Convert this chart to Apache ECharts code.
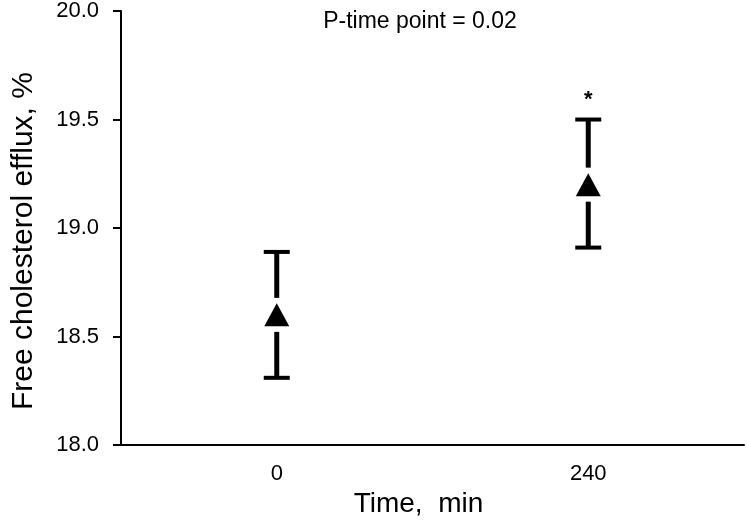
<!DOCTYPE html>
<html>
<head>
<meta charset="utf-8">
<script src="https://cdn.jsdelivr.net/npm/echarts@6/dist/echarts.min.js"></script>
<style>html,body{margin:0;padding:0;background:#fff}#c{width:747px;height:523px}</style>
</head>
<body>
<div id="c"></div>
<script>
const categories = ['0', '240'];
const means = [18.6, 19.2];
const upper = [18.89, 19.5];
const lower = [18.31, 18.91];
const marks = ['', '*'];
const yTicks = [18.0, 18.5, 19.0, 19.5, 20.0];
const titleText = 'P-time point = 0.02';
const xName = 'Time,  min';
const yName = 'Free cholesterol efflux, %';

const FONT = 'Liberation Sans';
const chart = echarts.init(document.getElementById('c'));
const errData = categories.map((c, i) => [i, lower[i], upper[i], means[i], marks[i]]);

chart.setOption({
  animation: false,
  title: {
    text: titleText, left: 415, top: 5, textAlign: 'center',
    textStyle: {fontFamily: FONT, fontSize: 23, fontWeight: 'normal', color: '#000'}
  },
  grid: {left: 121, right: 3, top: 8.5, bottom: 71.5},
  xAxis: {
    type: 'category', data: categories, boundaryGap: true,
    name: xName, nameLocation: 'middle', nameGap: 40,
    nameTextStyle: {fontFamily: FONT, fontSize: 28, color: '#000', padding: [0, 28, 0, 0]},
    axisLine: {lineStyle: {color: '#000', width: 2}},
    axisTick: {alignWithLabel: true, length: 9, lineStyle: {color: '#000', width: 2}},
    axisLabel: {fontFamily: FONT, fontSize: 22, color: '#000', margin: 18},
    splitLine: {show: false}
  },
  yAxis: {
    type: 'value', min: yTicks[0], max: yTicks[yTicks.length - 1], interval: 0.5,
    name: yName, nameLocation: 'middle', nameGap: 82,
    nameTextStyle: {fontFamily: FONT, fontSize: 30, color: '#000', padding: [0, 26, 0, 0]},
    axisLine: {show: true, lineStyle: {color: '#000', width: 2}},
    axisTick: {show: true, length: 8, lineStyle: {color: '#000', width: 2}},
    axisLabel: {fontFamily: FONT, fontSize: 22, color: '#000', margin: 22,
      formatter: v => v.toFixed(1)},
    splitLine: {show: false}
  },
  series: [
    {
      type: 'custom',
      data: errData,
      encode: {x: 0, y: [1, 2]},
      renderItem: function (params, api) {
        const x = api.value(0);
        const lo = api.coord([x, api.value(1)]);
        const hi = api.coord([x, api.value(2)]);
        const mid = api.coord([x, api.value(3)]);
        const cap = 13, gap = 17;
        const vStyle = {stroke: '#000', lineWidth: 5};
        const cStyle = {stroke: '#000', lineWidth: 4};
        const children = [
          {type: 'line', shape: {x1: hi[0], y1: hi[1], x2: hi[0], y2: mid[1] - gap}, style: vStyle},
          {type: 'line', shape: {x1: lo[0], y1: mid[1] + gap, x2: lo[0], y2: lo[1]}, style: vStyle},
          {type: 'line', shape: {x1: hi[0] - cap, y1: hi[1], x2: hi[0] + cap, y2: hi[1]}, style: cStyle},
          {type: 'line', shape: {x1: lo[0] - cap, y1: lo[1], x2: lo[0] + cap, y2: lo[1]}, style: cStyle}
        ];
        const m = api.value(4);
        if (m) {
          children.push({type: 'text', style: {text: m, x: hi[0], y: hi[1] - 20,
            align: 'center', verticalAlign: 'middle', fill: '#000',
            font: 'bold 22px "Liberation Sans"'}});
        }
        return {type: 'group', children};
      },
      z: 2
    },
    {
      type: 'scatter',
      data: means.map((v, i) => [i, v]),
      symbol: 'triangle',
      symbolSize: [25, 23],
      itemStyle: {color: '#000', opacity: 1},
      z: 3
    }
  ]
});
</script>
</body>
</html>
